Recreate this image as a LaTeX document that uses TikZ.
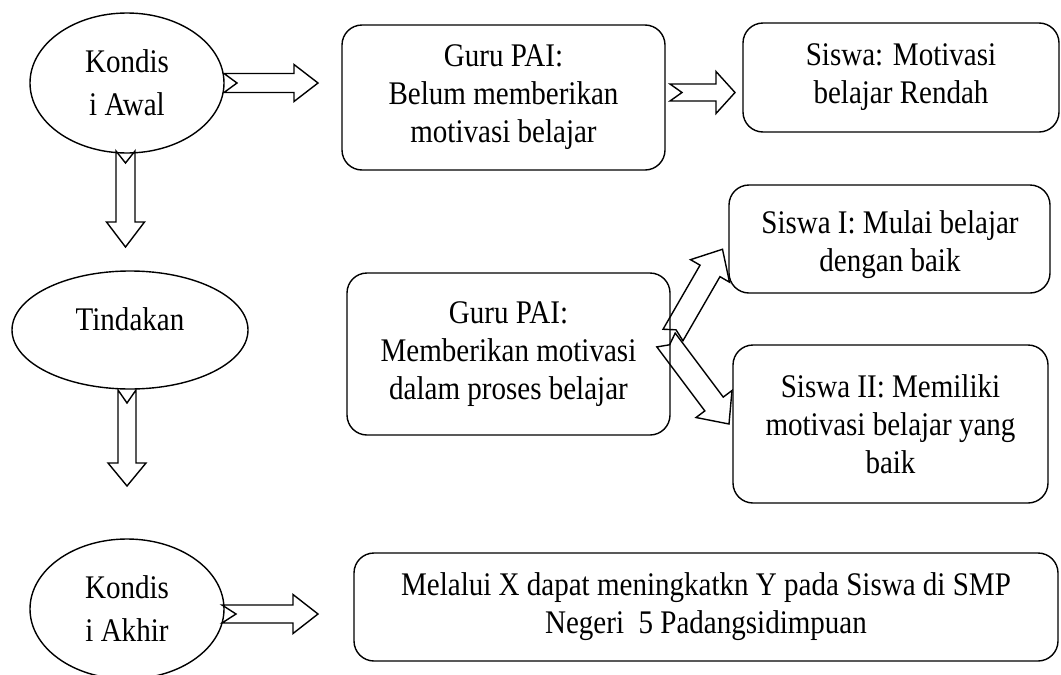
\documentclass[tikz,border=0pt]{standalone}
\usepackage{fontspec}
\setmainfont[FakeStretch=0.88]{Liberation Serif}
\usetikzlibrary{shapes.geometric}
\tikzset{
  ell/.style={draw, ellipse, inner sep=0pt, align=center, font=\fontsize{33}{43}\selectfont},
  rbox/.style={draw, rounded corners=20pt, inner sep=0pt, align=center, font=\fontsize{33}{38}\selectfont},
  lbl/.style={inner sep=0pt, align=center, font=\fontsize{33}{38}\selectfont},
  barrow/.style={draw, line join=miter},
}
% #1 tail coordinate, #2 angle, #3 length, #4 shaft half width, #5 head half width, #6 head length, #7 notch depth
\newcommand\blockarrow[7]{%
  \draw[barrow, shift={(#1)}, rotate=#2] (0,#4) -- ({#3-#6},#4) -- ({#3-#6},#5) -- (#3,0)
    -- ({#3-#6},-#5) -- ({#3-#6},-#4) -- (0,-#4) -- (#7,0) -- cycle;}
\begin{document}
\begin{tikzpicture}[x=1pt, y=-1pt, line width=1.4pt]
\useasboundingbox (0,0) rectangle (1061,675);
\clip (0,0) rectangle (1061,675);

% ellipses
\node[ell, minimum width=194pt, minimum height=140pt] (e1) at (127,83) {Kondis\\i Awal};
\node[ell, minimum width=236pt, minimum height=118pt] (e2) at (130,330) {};
\node[lbl, anchor=base] (e2t) at (130,330) {Tindakan};
\node[ell, minimum width=194pt, minimum height=140pt] (e3) at (127,609) {Kondis\\i Akhir};

% boxes
\node[rbox, minimum width=323pt, minimum height=145pt] (b1) at (503.5,97.5) {Guru PAI:\\Belum memberikan\\motivasi belajar};
\node[rbox, minimum width=316pt, minimum height=109pt] (b2) at (901,77.5) {Siswa: Motivasi\\belajar Rendah};
\node[rbox, minimum width=323pt, minimum height=162pt] (b3) at (508.5,354) {Guru PAI:\\Memberikan motivasi\\dalam proses belajar};
\node[rbox, minimum width=321pt, minimum height=108pt] (b4) at (889.5,239) {};
\node[lbl] (b4t) at (890,245) {Siswa I: Mulai belajar\\dengan baik};
\node[rbox, minimum width=315pt, minimum height=158pt] (b5) at (890.5,424) {Siswa II: Memiliki\\motivasi belajar yang\\baik};
\node[rbox, minimum width=704pt, minimum height=108pt] (b6) at (706,607) {Melalui X dapat meningkatkn Y pada Siswa di SMP\\Negeri\ \ 5 Padangsidimpuan};

% arrow tails
\coordinate (tA) at (224,83);
\coordinate (tB) at (670,92.5);
\coordinate (tC) at (222,614);
\coordinate (tD) at (125.5,151);
\coordinate (tE) at (127,390);
\coordinate (tU) at (673,335);
\coordinate (tL) at (666,340);

\blockarrow{tA}{0}{94}{9.5}{18.5}{24}{13}
\blockarrow{tB}{0}{65}{8.5}{21}{19}{12}
\blockarrow{tC}{0}{96}{9}{19.5}{25}{14}
\blockarrow{tD}{-90}{96}{9.5}{19}{25}{12}
\blockarrow{tE}{-90}{96}{9}{19}{23}{13}
\blockarrow{tU}{60}{99}{11.5}{22.5}{25}{6}
\blockarrow{tL}{-53.13}{105}{11.5}{22.5}{25}{6}
\end{tikzpicture}
\end{document}
